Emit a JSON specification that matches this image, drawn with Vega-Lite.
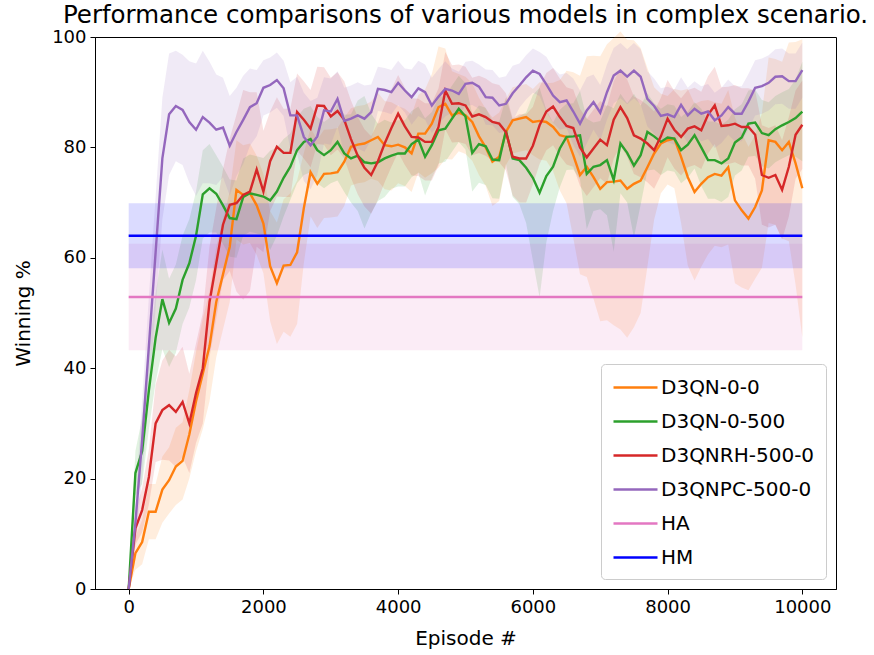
{
"$schema":"https://vega.github.io/schema/vega-lite/v6.json",
"width":741,"height":552,
"autosize":{"type":"none"},
"padding":{"left":95,"top":37,"right":38,"bottom":66},
"title":{"text":"Performance comparisons of various models in complex scenario.","font":"DejaVu Sans","fontSize":24.5,"fontWeight":"normal","color":"black","offset":8,"dy":8,"anchor":"middle"},
"data":{"values":[
{"m":"D3QN-0-0","x":0,"y":0,"e":0},{"m":"D3QN-0-0","x":100,"y":6.5,"e":3},{"m":"D3QN-0-0","x":200,"y":8.5,"e":4},{"m":"D3QN-0-0","x":300,"y":14,"e":5},{"m":"D3QN-0-0","x":400,"y":14,"e":5},{"m":"D3QN-0-0","x":500,"y":18,"e":6},{"m":"D3QN-0-0","x":600,"y":19.7,"e":6},{"m":"D3QN-0-0","x":700,"y":22.2,"e":7},{"m":"D3QN-0-0","x":800,"y":23.2,"e":7},{"m":"D3QN-0-0","x":900,"y":28,"e":8},{"m":"D3QN-0-0","x":1000,"y":34,"e":9},
{"m":"D3QN-0-0","x":1100,"y":39,"e":10},{"m":"D3QN-0-0","x":1200,"y":44,"e":10},{"m":"D3QN-0-0","x":1300,"y":52,"e":10},{"m":"D3QN-0-0","x":1400,"y":57,"e":10},{"m":"D3QN-0-0","x":1500,"y":62,"e":10},{"m":"D3QN-0-0","x":1600,"y":72.3,"e":9},{"m":"D3QN-0-0","x":1700,"y":71.4,"e":9},{"m":"D3QN-0-0","x":1800,"y":71.7,"e":9},{"m":"D3QN-0-0","x":1900,"y":69.5,"e":9},{"m":"D3QN-0-0","x":2000,"y":66.2,"e":9},
{"m":"D3QN-0-0","x":2100,"y":58.5,"e":10},{"m":"D3QN-0-0","x":2200,"y":55.4,"e":11},{"m":"D3QN-0-0","x":2300,"y":58.6,"e":12},{"m":"D3QN-0-0","x":2400,"y":58.7,"e":13},{"m":"D3QN-0-0","x":2500,"y":61,"e":13},{"m":"D3QN-0-0","x":2600,"y":69,"e":10},{"m":"D3QN-0-0","x":2700,"y":75.5,"e":8},{"m":"D3QN-0-0","x":2800,"y":73.4,"e":8},{"m":"D3QN-0-0","x":2900,"y":75.2,"e":8},{"m":"D3QN-0-0","x":3000,"y":75.3,"e":8},
{"m":"D3QN-0-0","x":3100,"y":75.5,"e":8},{"m":"D3QN-0-0","x":3200,"y":77.4,"e":8},{"m":"D3QN-0-0","x":3300,"y":80.1,"e":7},{"m":"D3QN-0-0","x":3400,"y":80.5,"e":7},{"m":"D3QN-0-0","x":3500,"y":80.7,"e":7},{"m":"D3QN-0-0","x":3600,"y":81.3,"e":7},{"m":"D3QN-0-0","x":3700,"y":81.9,"e":8},{"m":"D3QN-0-0","x":3800,"y":80.4,"e":8},{"m":"D3QN-0-0","x":3900,"y":80.2,"e":8},{"m":"D3QN-0-0","x":4000,"y":80.5,"e":7},
{"m":"D3QN-0-0","x":4100,"y":80,"e":7},{"m":"D3QN-0-0","x":4200,"y":78.9,"e":7},{"m":"D3QN-0-0","x":4300,"y":82.5,"e":7},{"m":"D3QN-0-0","x":4400,"y":82.5,"e":8},{"m":"D3QN-0-0","x":4500,"y":84.3,"e":9},{"m":"D3QN-0-0","x":4600,"y":87.3,"e":11},{"m":"D3QN-0-0","x":4700,"y":87.9,"e":10},{"m":"D3QN-0-0","x":4800,"y":85.8,"e":8},{"m":"D3QN-0-0","x":4900,"y":86.3,"e":7},{"m":"D3QN-0-0","x":5000,"y":85.8,"e":7},
{"m":"D3QN-0-0","x":5100,"y":84.6,"e":7},{"m":"D3QN-0-0","x":5200,"y":82,"e":7},{"m":"D3QN-0-0","x":5300,"y":80,"e":7},{"m":"D3QN-0-0","x":5400,"y":77.4,"e":8},{"m":"D3QN-0-0","x":5500,"y":78.3,"e":8},{"m":"D3QN-0-0","x":5600,"y":82.8,"e":6},{"m":"D3QN-0-0","x":5700,"y":84.9,"e":6},{"m":"D3QN-0-0","x":5800,"y":85.2,"e":6},{"m":"D3QN-0-0","x":5900,"y":85.5,"e":6},{"m":"D3QN-0-0","x":6000,"y":84.6,"e":6},
{"m":"D3QN-0-0","x":6100,"y":84.8,"e":7},{"m":"D3QN-0-0","x":6200,"y":84.6,"e":7},{"m":"D3QN-0-0","x":6300,"y":83.7,"e":8},{"m":"D3QN-0-0","x":6400,"y":82.2,"e":10},{"m":"D3QN-0-0","x":6500,"y":81.9,"e":12},{"m":"D3QN-0-0","x":6600,"y":78.6,"e":15},{"m":"D3QN-0-0","x":6700,"y":75,"e":18},{"m":"D3QN-0-0","x":6800,"y":76.5,"e":20},{"m":"D3QN-0-0","x":6900,"y":74.6,"e":22},{"m":"D3QN-0-0","x":7000,"y":72.5,"e":24},
{"m":"D3QN-0-0","x":7100,"y":73.7,"e":25},{"m":"D3QN-0-0","x":7200,"y":73.8,"e":26},{"m":"D3QN-0-0","x":7300,"y":74,"e":27},{"m":"D3QN-0-0","x":7400,"y":72.5,"e":27},{"m":"D3QN-0-0","x":7500,"y":73.4,"e":26},{"m":"D3QN-0-0","x":7600,"y":74,"e":24},{"m":"D3QN-0-0","x":7700,"y":76.4,"e":18},{"m":"D3QN-0-0","x":7800,"y":78.9,"e":12},{"m":"D3QN-0-0","x":7900,"y":80.7,"e":9},{"m":"D3QN-0-0","x":8000,"y":81.3,"e":8},
{"m":"D3QN-0-0","x":8100,"y":81.6,"e":9},{"m":"D3QN-0-0","x":8200,"y":78.3,"e":12},{"m":"D3QN-0-0","x":8300,"y":74.6,"e":16},{"m":"D3QN-0-0","x":8400,"y":71.9,"e":16},{"m":"D3QN-0-0","x":8500,"y":73.4,"e":15},{"m":"D3QN-0-0","x":8600,"y":74.6,"e":14},{"m":"D3QN-0-0","x":8700,"y":75.2,"e":13},{"m":"D3QN-0-0","x":8800,"y":74.9,"e":13},{"m":"D3QN-0-0","x":8900,"y":76.4,"e":14},{"m":"D3QN-0-0","x":9000,"y":70.4,"e":15},
{"m":"D3QN-0-0","x":9100,"y":68.6,"e":14},{"m":"D3QN-0-0","x":9200,"y":67.1,"e":13},{"m":"D3QN-0-0","x":9300,"y":69.2,"e":13},{"m":"D3QN-0-0","x":9400,"y":72.2,"e":14},{"m":"D3QN-0-0","x":9500,"y":81.3,"e":15},{"m":"D3QN-0-0","x":9600,"y":81,"e":15},{"m":"D3QN-0-0","x":9700,"y":79.5,"e":16},{"m":"D3QN-0-0","x":9800,"y":81,"e":18},{"m":"D3QN-0-0","x":9900,"y":77.1,"e":22},{"m":"D3QN-0-0","x":10000,"y":72.6,"e":27},
{"m":"D3QN-0-500","x":0,"y":0,"e":0},{"m":"D3QN-0-500","x":100,"y":21,"e":4},{"m":"D3QN-0-500","x":200,"y":25,"e":6},{"m":"D3QN-0-500","x":300,"y":36,"e":7},{"m":"D3QN-0-500","x":400,"y":45.5,"e":8},{"m":"D3QN-0-500","x":500,"y":52.5,"e":9},{"m":"D3QN-0-500","x":600,"y":48.2,"e":8},{"m":"D3QN-0-500","x":700,"y":50.8,"e":8},{"m":"D3QN-0-500","x":800,"y":56,"e":8},{"m":"D3QN-0-500","x":900,"y":59,"e":8},{"m":"D3QN-0-500","x":1000,"y":64,"e":8},
{"m":"D3QN-0-500","x":1100,"y":71.5,"e":8},{"m":"D3QN-0-500","x":1200,"y":72.6,"e":8},{"m":"D3QN-0-500","x":1300,"y":71.6,"e":7},{"m":"D3QN-0-500","x":1400,"y":69.5,"e":7},{"m":"D3QN-0-500","x":1500,"y":67.2,"e":7},{"m":"D3QN-0-500","x":1600,"y":67,"e":7},{"m":"D3QN-0-500","x":1700,"y":71,"e":7},{"m":"D3QN-0-500","x":1800,"y":71.7,"e":7},{"m":"D3QN-0-500","x":1900,"y":71.4,"e":7},{"m":"D3QN-0-500","x":2000,"y":71.1,"e":7},
{"m":"D3QN-0-500","x":2100,"y":70.4,"e":9},{"m":"D3QN-0-500","x":2200,"y":72,"e":8},{"m":"D3QN-0-500","x":2300,"y":74.5,"e":7},{"m":"D3QN-0-500","x":2400,"y":76.5,"e":6},{"m":"D3QN-0-500","x":2500,"y":79.5,"e":6},{"m":"D3QN-0-500","x":2600,"y":81,"e":6},{"m":"D3QN-0-500","x":2700,"y":81.5,"e":6},{"m":"D3QN-0-500","x":2800,"y":79.5,"e":6},{"m":"D3QN-0-500","x":2900,"y":78.6,"e":6},{"m":"D3QN-0-500","x":3000,"y":79.5,"e":6},
{"m":"D3QN-0-500","x":3100,"y":81,"e":7},{"m":"D3QN-0-500","x":3200,"y":78.9,"e":7},{"m":"D3QN-0-500","x":3300,"y":78,"e":8},{"m":"D3QN-0-500","x":3400,"y":78.5,"e":10},{"m":"D3QN-0-500","x":3500,"y":77.3,"e":12},{"m":"D3QN-0-500","x":3600,"y":77.1,"e":9},{"m":"D3QN-0-500","x":3700,"y":77.3,"e":7},{"m":"D3QN-0-500","x":3800,"y":78,"e":7},{"m":"D3QN-0-500","x":3900,"y":78.5,"e":6},{"m":"D3QN-0-500","x":4000,"y":78.9,"e":6},
{"m":"D3QN-0-500","x":4100,"y":78.9,"e":6},{"m":"D3QN-0-500","x":4200,"y":80.6,"e":6},{"m":"D3QN-0-500","x":4300,"y":81.4,"e":6},{"m":"D3QN-0-500","x":4400,"y":78.3,"e":7},{"m":"D3QN-0-500","x":4500,"y":80.4,"e":6},{"m":"D3QN-0-500","x":4600,"y":83.1,"e":6},{"m":"D3QN-0-500","x":4700,"y":83.4,"e":6},{"m":"D3QN-0-500","x":4800,"y":85.2,"e":6},{"m":"D3QN-0-500","x":4900,"y":87,"e":6},{"m":"D3QN-0-500","x":5000,"y":85.6,"e":6},
{"m":"D3QN-0-500","x":5100,"y":79,"e":7},{"m":"D3QN-0-500","x":5200,"y":80.6,"e":7},{"m":"D3QN-0-500","x":5300,"y":80.2,"e":7},{"m":"D3QN-0-500","x":5400,"y":77.8,"e":7},{"m":"D3QN-0-500","x":5500,"y":77.7,"e":7},{"m":"D3QN-0-500","x":5600,"y":83,"e":6},{"m":"D3QN-0-500","x":5700,"y":78,"e":7},{"m":"D3QN-0-500","x":5800,"y":77.7,"e":8},{"m":"D3QN-0-500","x":5900,"y":76.3,"e":10},{"m":"D3QN-0-500","x":6000,"y":74.5,"e":15},
{"m":"D3QN-0-500","x":6100,"y":71.8,"e":19},{"m":"D3QN-0-500","x":6200,"y":74.8,"e":12},{"m":"D3QN-0-500","x":6300,"y":76.5,"e":8},{"m":"D3QN-0-500","x":6400,"y":79.8,"e":7},{"m":"D3QN-0-500","x":6500,"y":81.9,"e":6},{"m":"D3QN-0-500","x":6600,"y":82,"e":6},{"m":"D3QN-0-500","x":6700,"y":82.2,"e":8},{"m":"D3QN-0-500","x":6800,"y":75.2,"e":10},{"m":"D3QN-0-500","x":6900,"y":76.5,"e":8},{"m":"D3QN-0-500","x":7000,"y":76.8,"e":8},
{"m":"D3QN-0-500","x":7100,"y":77.7,"e":10},{"m":"D3QN-0-500","x":7200,"y":74.1,"e":13},{"m":"D3QN-0-500","x":7300,"y":80.7,"e":9},{"m":"D3QN-0-500","x":7400,"y":79,"e":9},{"m":"D3QN-0-500","x":7500,"y":76.7,"e":13},{"m":"D3QN-0-500","x":7600,"y":78.6,"e":9},{"m":"D3QN-0-500","x":7700,"y":82.8,"e":7},{"m":"D3QN-0-500","x":7800,"y":82,"e":6},{"m":"D3QN-0-500","x":7900,"y":81,"e":6},{"m":"D3QN-0-500","x":8000,"y":81.8,"e":6},
{"m":"D3QN-0-500","x":8100,"y":81.6,"e":6},{"m":"D3QN-0-500","x":8200,"y":79.5,"e":6},{"m":"D3QN-0-500","x":8300,"y":80.5,"e":6},{"m":"D3QN-0-500","x":8400,"y":82.2,"e":6},{"m":"D3QN-0-500","x":8500,"y":80,"e":7},{"m":"D3QN-0-500","x":8600,"y":77.7,"e":7},{"m":"D3QN-0-500","x":8700,"y":77.7,"e":7},{"m":"D3QN-0-500","x":8800,"y":77.1,"e":7},{"m":"D3QN-0-500","x":8900,"y":78,"e":7},{"m":"D3QN-0-500","x":9000,"y":80.9,"e":6},
{"m":"D3QN-0-500","x":9100,"y":81.8,"e":6},{"m":"D3QN-0-500","x":9200,"y":84.3,"e":6},{"m":"D3QN-0-500","x":9300,"y":84.5,"e":6},{"m":"D3QN-0-500","x":9400,"y":82.6,"e":6},{"m":"D3QN-0-500","x":9500,"y":82.2,"e":6},{"m":"D3QN-0-500","x":9600,"y":83.3,"e":6},{"m":"D3QN-0-500","x":9700,"y":84,"e":6},{"m":"D3QN-0-500","x":9800,"y":84.6,"e":6},{"m":"D3QN-0-500","x":9900,"y":85.3,"e":7},{"m":"D3QN-0-500","x":10000,"y":86.5,"e":9},
{"m":"D3QNRH-500-0","x":0,"y":0,"e":0},{"m":"D3QNRH-500-0","x":100,"y":11,"e":3},{"m":"D3QNRH-500-0","x":200,"y":14.3,"e":4},{"m":"D3QNRH-500-0","x":300,"y":20.3,"e":5},{"m":"D3QNRH-500-0","x":400,"y":30,"e":7},{"m":"D3QNRH-500-0","x":500,"y":32.4,"e":9},{"m":"D3QNRH-500-0","x":600,"y":33.3,"e":10},{"m":"D3QNRH-500-0","x":700,"y":32.1,"e":10},{"m":"D3QNRH-500-0","x":800,"y":33.9,"e":10},{"m":"D3QNRH-500-0","x":900,"y":30,"e":9},{"m":"D3QNRH-500-0","x":1000,"y":35.5,"e":9},
{"m":"D3QNRH-500-0","x":1100,"y":40,"e":10},{"m":"D3QNRH-500-0","x":1200,"y":52,"e":10},{"m":"D3QNRH-500-0","x":1300,"y":59,"e":10},{"m":"D3QNRH-500-0","x":1400,"y":66,"e":10},{"m":"D3QNRH-500-0","x":1500,"y":69.6,"e":12},{"m":"D3QNRH-500-0","x":1600,"y":69.9,"e":16},{"m":"D3QNRH-500-0","x":1700,"y":71.4,"e":19},{"m":"D3QNRH-500-0","x":1800,"y":72,"e":18},{"m":"D3QNRH-500-0","x":1900,"y":76,"e":14},{"m":"D3QNRH-500-0","x":2000,"y":72,"e":11},
{"m":"D3QNRH-500-0","x":2100,"y":77.5,"e":9},{"m":"D3QNRH-500-0","x":2200,"y":80.1,"e":9},{"m":"D3QNRH-500-0","x":2300,"y":79,"e":8},{"m":"D3QNRH-500-0","x":2400,"y":79,"e":8},{"m":"D3QNRH-500-0","x":2500,"y":86.4,"e":7},{"m":"D3QNRH-500-0","x":2600,"y":85,"e":7},{"m":"D3QNRH-500-0","x":2700,"y":83.4,"e":7},{"m":"D3QNRH-500-0","x":2800,"y":87.6,"e":7},{"m":"D3QNRH-500-0","x":2900,"y":87.5,"e":7},{"m":"D3QNRH-500-0","x":3000,"y":85.6,"e":7},
{"m":"D3QNRH-500-0","x":3100,"y":86.6,"e":7},{"m":"D3QNRH-500-0","x":3200,"y":85,"e":7},{"m":"D3QNRH-500-0","x":3300,"y":81.5,"e":7},{"m":"D3QNRH-500-0","x":3400,"y":78.5,"e":7},{"m":"D3QNRH-500-0","x":3500,"y":76.3,"e":7},{"m":"D3QNRH-500-0","x":3600,"y":75,"e":7},{"m":"D3QNRH-500-0","x":3700,"y":77.5,"e":7},{"m":"D3QNRH-500-0","x":3800,"y":80.7,"e":7},{"m":"D3QNRH-500-0","x":3900,"y":83.5,"e":7},{"m":"D3QNRH-500-0","x":4000,"y":86.1,"e":7},
{"m":"D3QNRH-500-0","x":4100,"y":83.8,"e":7},{"m":"D3QNRH-500-0","x":4200,"y":81.9,"e":7},{"m":"D3QNRH-500-0","x":4300,"y":81.8,"e":7},{"m":"D3QNRH-500-0","x":4400,"y":81,"e":7},{"m":"D3QNRH-500-0","x":4500,"y":81,"e":7},{"m":"D3QNRH-500-0","x":4600,"y":83.7,"e":7},{"m":"D3QNRH-500-0","x":4700,"y":90.3,"e":7},{"m":"D3QNRH-500-0","x":4800,"y":87.9,"e":7},{"m":"D3QNRH-500-0","x":4900,"y":88,"e":7},{"m":"D3QNRH-500-0","x":5000,"y":87.6,"e":7},
{"m":"D3QNRH-500-0","x":5100,"y":85.6,"e":7},{"m":"D3QNRH-500-0","x":5200,"y":86,"e":7},{"m":"D3QNRH-500-0","x":5300,"y":85.5,"e":7},{"m":"D3QNRH-500-0","x":5400,"y":84.6,"e":7},{"m":"D3QNRH-500-0","x":5500,"y":84.3,"e":7},{"m":"D3QNRH-500-0","x":5600,"y":82.8,"e":7},{"m":"D3QNRH-500-0","x":5700,"y":78.3,"e":7},{"m":"D3QNRH-500-0","x":5800,"y":78,"e":8},{"m":"D3QNRH-500-0","x":5900,"y":78,"e":8},{"m":"D3QNRH-500-0","x":6000,"y":80.3,"e":7},
{"m":"D3QNRH-500-0","x":6100,"y":84,"e":7},{"m":"D3QNRH-500-0","x":6200,"y":86.5,"e":7},{"m":"D3QNRH-500-0","x":6300,"y":87.4,"e":7},{"m":"D3QNRH-500-0","x":6400,"y":85.5,"e":7},{"m":"D3QNRH-500-0","x":6500,"y":83.9,"e":7},{"m":"D3QNRH-500-0","x":6600,"y":83.5,"e":7},{"m":"D3QNRH-500-0","x":6700,"y":80,"e":7},{"m":"D3QNRH-500-0","x":6800,"y":78.2,"e":7},{"m":"D3QNRH-500-0","x":6900,"y":79.8,"e":7},{"m":"D3QNRH-500-0","x":7000,"y":81.4,"e":7},
{"m":"D3QNRH-500-0","x":7100,"y":80.4,"e":7},{"m":"D3QNRH-500-0","x":7200,"y":85,"e":7},{"m":"D3QNRH-500-0","x":7300,"y":87.3,"e":7},{"m":"D3QNRH-500-0","x":7400,"y":85.3,"e":7},{"m":"D3QNRH-500-0","x":7500,"y":82.2,"e":7},{"m":"D3QNRH-500-0","x":7600,"y":81.6,"e":7},{"m":"D3QNRH-500-0","x":7700,"y":80.7,"e":7},{"m":"D3QNRH-500-0","x":7800,"y":79.5,"e":7},{"m":"D3QNRH-500-0","x":7900,"y":82,"e":7},{"m":"D3QNRH-500-0","x":8000,"y":85.2,"e":7},
{"m":"D3QNRH-500-0","x":8100,"y":83.2,"e":7},{"m":"D3QNRH-500-0","x":8200,"y":81.9,"e":7},{"m":"D3QNRH-500-0","x":8300,"y":83.4,"e":7},{"m":"D3QNRH-500-0","x":8400,"y":83.8,"e":7},{"m":"D3QNRH-500-0","x":8500,"y":83.1,"e":7},{"m":"D3QNRH-500-0","x":8600,"y":85.9,"e":7},{"m":"D3QNRH-500-0","x":8700,"y":87.6,"e":7},{"m":"D3QNRH-500-0","x":8800,"y":83.9,"e":7},{"m":"D3QNRH-500-0","x":8900,"y":84,"e":7},{"m":"D3QNRH-500-0","x":9000,"y":84.3,"e":7},
{"m":"D3QNRH-500-0","x":9100,"y":83.7,"e":7},{"m":"D3QNRH-500-0","x":9200,"y":83.7,"e":7},{"m":"D3QNRH-500-0","x":9300,"y":82.3,"e":8},{"m":"D3QNRH-500-0","x":9400,"y":75,"e":9},{"m":"D3QNRH-500-0","x":9500,"y":74.5,"e":9},{"m":"D3QNRH-500-0","x":9600,"y":75,"e":9},{"m":"D3QNRH-500-0","x":9700,"y":72.3,"e":9},{"m":"D3QNRH-500-0","x":9800,"y":76.5,"e":9},{"m":"D3QNRH-500-0","x":9900,"y":82.3,"e":8},{"m":"D3QNRH-500-0","x":10000,"y":84.1,"e":8},
{"m":"D3QNPC-500-0","x":0,"y":0,"e":0},{"m":"D3QNPC-500-0","x":100,"y":12,"e":4},{"m":"D3QNPC-500-0","x":200,"y":27,"e":7},{"m":"D3QNPC-500-0","x":300,"y":44,"e":9},{"m":"D3QNPC-500-0","x":400,"y":61,"e":10},{"m":"D3QNPC-500-0","x":500,"y":78,"e":11},{"m":"D3QNPC-500-0","x":600,"y":86,"e":11},{"m":"D3QNPC-500-0","x":700,"y":87.5,"e":10},{"m":"D3QNPC-500-0","x":800,"y":86.8,"e":10},{"m":"D3QNPC-500-0","x":900,"y":84.6,"e":11},{"m":"D3QNPC-500-0","x":1000,"y":83.2,"e":12},
{"m":"D3QNPC-500-0","x":1100,"y":85.5,"e":12},{"m":"D3QNPC-500-0","x":1200,"y":84.5,"e":11},{"m":"D3QNPC-500-0","x":1300,"y":83.2,"e":10},{"m":"D3QNPC-500-0","x":1400,"y":83.6,"e":9},{"m":"D3QNPC-500-0","x":1500,"y":80.3,"e":9},{"m":"D3QNPC-500-0","x":1600,"y":82.8,"e":8},{"m":"D3QNPC-500-0","x":1700,"y":85,"e":8},{"m":"D3QNPC-500-0","x":1800,"y":87.3,"e":7},{"m":"D3QNPC-500-0","x":1900,"y":88,"e":6},{"m":"D3QNPC-500-0","x":2000,"y":90.8,"e":5},
{"m":"D3QNPC-500-0","x":2100,"y":91.3,"e":5},{"m":"D3QNPC-500-0","x":2200,"y":92.2,"e":5},{"m":"D3QNPC-500-0","x":2300,"y":90.7,"e":5},{"m":"D3QNPC-500-0","x":2400,"y":85.8,"e":6},{"m":"D3QNPC-500-0","x":2500,"y":85.8,"e":7},{"m":"D3QNPC-500-0","x":2600,"y":81.9,"e":8},{"m":"D3QNPC-500-0","x":2700,"y":80.4,"e":8},{"m":"D3QNPC-500-0","x":2800,"y":82,"e":7},{"m":"D3QNPC-500-0","x":2900,"y":86.7,"e":6},{"m":"D3QNPC-500-0","x":3000,"y":86.5,"e":6},
{"m":"D3QNPC-500-0","x":3100,"y":88.8,"e":5},{"m":"D3QNPC-500-0","x":3200,"y":84.8,"e":6},{"m":"D3QNPC-500-0","x":3300,"y":85.2,"e":6},{"m":"D3QNPC-500-0","x":3400,"y":85.8,"e":6},{"m":"D3QNPC-500-0","x":3500,"y":85.2,"e":6},{"m":"D3QNPC-500-0","x":3600,"y":86.4,"e":5},{"m":"D3QNPC-500-0","x":3700,"y":90.6,"e":4},{"m":"D3QNPC-500-0","x":3800,"y":90.4,"e":4},{"m":"D3QNPC-500-0","x":3900,"y":90,"e":4},{"m":"D3QNPC-500-0","x":4000,"y":91.7,"e":4},
{"m":"D3QNPC-500-0","x":4100,"y":90.3,"e":4},{"m":"D3QNPC-500-0","x":4200,"y":89.1,"e":5},{"m":"D3QNPC-500-0","x":4300,"y":90.7,"e":5},{"m":"D3QNPC-500-0","x":4400,"y":90,"e":5},{"m":"D3QNPC-500-0","x":4500,"y":87.6,"e":5},{"m":"D3QNPC-500-0","x":4600,"y":89.2,"e":5},{"m":"D3QNPC-500-0","x":4700,"y":90.6,"e":5},{"m":"D3QNPC-500-0","x":4800,"y":90.3,"e":4},{"m":"D3QNPC-500-0","x":4900,"y":89.7,"e":4},{"m":"D3QNPC-500-0","x":5000,"y":91.5,"e":4},
{"m":"D3QNPC-500-0","x":5100,"y":91.7,"e":4},{"m":"D3QNPC-500-0","x":5200,"y":91,"e":4},{"m":"D3QNPC-500-0","x":5300,"y":89.1,"e":5},{"m":"D3QNPC-500-0","x":5400,"y":89,"e":5},{"m":"D3QNPC-500-0","x":5500,"y":87.6,"e":5},{"m":"D3QNPC-500-0","x":5600,"y":87.9,"e":5},{"m":"D3QNPC-500-0","x":5700,"y":89.8,"e":5},{"m":"D3QNPC-500-0","x":5800,"y":91.2,"e":4},{"m":"D3QNPC-500-0","x":5900,"y":92.7,"e":4},{"m":"D3QNPC-500-0","x":6000,"y":93.9,"e":4},
{"m":"D3QNPC-500-0","x":6100,"y":93.3,"e":4},{"m":"D3QNPC-500-0","x":6200,"y":91.4,"e":5},{"m":"D3QNPC-500-0","x":6300,"y":89.4,"e":5},{"m":"D3QNPC-500-0","x":6400,"y":88.2,"e":5},{"m":"D3QNPC-500-0","x":6500,"y":88.5,"e":5},{"m":"D3QNPC-500-0","x":6600,"y":86.5,"e":6},{"m":"D3QNPC-500-0","x":6700,"y":84.3,"e":6},{"m":"D3QNPC-500-0","x":6800,"y":86.7,"e":6},{"m":"D3QNPC-500-0","x":6900,"y":88.2,"e":5},{"m":"D3QNPC-500-0","x":7000,"y":86.3,"e":5},
{"m":"D3QNPC-500-0","x":7100,"y":90,"e":5},{"m":"D3QNPC-500-0","x":7200,"y":93,"e":5},{"m":"D3QNPC-500-0","x":7300,"y":93.9,"e":5},{"m":"D3QNPC-500-0","x":7400,"y":92.8,"e":5},{"m":"D3QNPC-500-0","x":7500,"y":93.9,"e":5},{"m":"D3QNPC-500-0","x":7600,"y":92.8,"e":5},{"m":"D3QNPC-500-0","x":7700,"y":88.8,"e":5},{"m":"D3QNPC-500-0","x":7800,"y":87.5,"e":5},{"m":"D3QNPC-500-0","x":7900,"y":85.7,"e":5},{"m":"D3QNPC-500-0","x":8000,"y":86,"e":5},
{"m":"D3QNPC-500-0","x":8100,"y":85.5,"e":5},{"m":"D3QNPC-500-0","x":8200,"y":87.7,"e":5},{"m":"D3QNPC-500-0","x":8300,"y":85.8,"e":5},{"m":"D3QNPC-500-0","x":8400,"y":87,"e":5},{"m":"D3QNPC-500-0","x":8500,"y":86.1,"e":5},{"m":"D3QNPC-500-0","x":8600,"y":86.5,"e":5},{"m":"D3QNPC-500-0","x":8700,"y":84.9,"e":5},{"m":"D3QNPC-500-0","x":8800,"y":85.8,"e":5},{"m":"D3QNPC-500-0","x":8900,"y":87.3,"e":5},{"m":"D3QNPC-500-0","x":9000,"y":86.1,"e":5},
{"m":"D3QNPC-500-0","x":9100,"y":86.1,"e":5},{"m":"D3QNPC-500-0","x":9200,"y":88.3,"e":5},{"m":"D3QNPC-500-0","x":9300,"y":90.8,"e":5},{"m":"D3QNPC-500-0","x":9400,"y":91.1,"e":5},{"m":"D3QNPC-500-0","x":9500,"y":91.7,"e":5},{"m":"D3QNPC-500-0","x":9600,"y":92.8,"e":5},{"m":"D3QNPC-500-0","x":9700,"y":92.9,"e":5},{"m":"D3QNPC-500-0","x":9800,"y":92,"e":5},{"m":"D3QNPC-500-0","x":9900,"y":92,"e":5},{"m":"D3QNPC-500-0","x":10000,"y":94,"e":5},
{"m":"HA","x":0,"y":52.9,"e":9.65},{"m":"HA","x":10000,"y":52.9,"e":9.65},
{"m":"HM","x":0,"y":64,"e":5.9},{"m":"HM","x":10000,"y":64,"e":5.9}
]},
"encoding":{
 "x":{"field":"x","type":"quantitative","scale":{"domain":[-500,10500],"nice":false,"zero":false},"axis":{"values":[0,2000,4000,6000,8000,10000],"format":"d","title":"Episode #","titlePadding":12}},
 "y":{"field":"y","type":"quantitative","scale":{"domain":[0,100],"nice":false},"axis":{"values":[0,20,40,60,80,100],"title":"Winning %","titlePadding":18}}
},
"layer":[
 {"mark":{"type":"errorband","band":{"opacity":0.14}},
  "encoding":{"yError":{"field":"e"},
   "color":{"field":"m","type":"nominal","legend":null,"scale":{"domain":["D3QN-0-0","D3QN-0-500","D3QNRH-500-0","D3QNPC-500-0","HA","HM"],"range":["#ff7f0e","#2ca02c","#d62728","#9467bd","#e377c2","#0000ff"]}}}},
 {"mark":{"type":"line","strokeWidth":2.4},
  "encoding":{
   "color":{"field":"m","type":"nominal","scale":{"domain":["D3QN-0-0","D3QN-0-500","D3QNRH-500-0","D3QNPC-500-0","HA","HM"],"range":["#ff7f0e","#2ca02c","#d62728","#9467bd","#e377c2","#0000ff"]},
    "legend":{"title":null,"orient":"bottom-right","offset":10,"symbolType":"M-1,0L3,0","symbolSize":484,"symbolStrokeWidth":2.5,"labelFont":"DejaVu Sans","labelFontSize":20,"labelColor":"black","labelOffset":24,"labelLimit":300,"rowPadding":11,"padding":11,"strokeColor":"#cccccc","fillColor":"rgba(255,255,255,0.8)","cornerRadius":4}}}}
],
"resolve":{"legend":{"color":"independent"}},
"config":{
 "view":{"stroke":"black","strokeWidth":1},
 "axis":{"grid":false,"domainColor":"black","tickColor":"black","labelColor":"black","titleColor":"black","labelFont":"DejaVu Sans","titleFont":"DejaVu Sans","labelFontSize":18,"titleFontSize":20,"titleFontWeight":"normal","tickSize":5,"labelPadding":4}
}
}
